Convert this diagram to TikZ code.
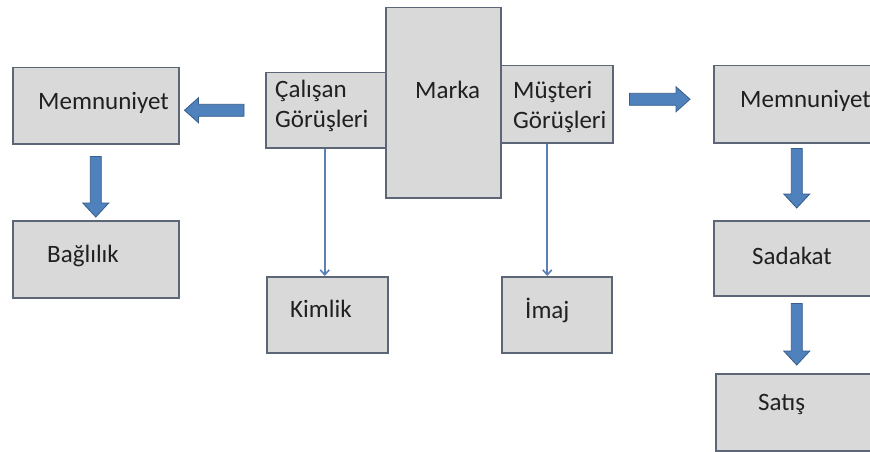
\documentclass[tikz,border=0pt]{standalone}
\usepackage{fontspec}
\setmainfont{Carlito}
\usetikzlibrary{calc,arrows.meta}
\definecolor{boxfill}{RGB}{217,217,217}
\definecolor{boxline}{RGB}{92,102,118}
\definecolor{arrfill}{RGB}{79,129,189}
\definecolor{arrline}{RGB}{56,93,138}
\definecolor{thinline}{RGB}{91,128,184}
\definecolor{txtcol}{RGB}{32,32,32}
\newcommand{\arrdown}[2]{%
  \draw[blockarr] ($(#1)+(-5.5,0)$) -- ($(#2)+(-5.5,-14)$) -- ($(#2)+(-13,-14)$) -- (#2)
    -- ($(#2)+(13,-14)$) -- ($(#2)+(5.5,-14)$) -- ($(#1)+(5.5,0)$) -- cycle;}
\newcommand{\arrleft}[2]{%
  \draw[blockarr] ($(#1)+(0,-6)$) -- ($(#2)+(14,-6)$) -- ($(#2)+(14,-12.5)$) -- (#2)
    -- ($(#2)+(14,12.5)$) -- ($(#2)+(14,6)$) -- ($(#1)+(0,6)$) -- cycle;}
\newcommand{\arrright}[2]{%
  \draw[blockarr] ($(#1)+(0,-6)$) -- ($(#2)+(-14,-6)$) -- ($(#2)+(-14,-12.5)$) -- (#2)
    -- ($(#2)+(-14,12.5)$) -- ($(#2)+(-14,6)$) -- ($(#1)+(0,6)$) -- cycle;}
\begin{document}
\begin{tikzpicture}[x=1pt,y=-1pt,
  greybox/.style={draw=boxline, fill=boxfill, line width=1.5pt, rectangle, inner sep=0pt, anchor=north west},
  lbl/.style={text=txtcol, font=\fontsize{25}{30}\selectfont, inner sep=0pt, anchor=base west},
  blockarr/.style={fill=arrfill, draw=arrline, line width=0.8pt, line join=miter},
  thinarr/.style={draw=thinline, line width=1.6pt, -{Straight Barb[length=5pt,width=9pt]}}]
\useasboundingbox (0,0) rectangle (870,452);
\clip (0,0) rectangle (870,452);
\fill[white] (0,0) rectangle (870,452);
% boxes
\node[greybox, minimum width=166pt, minimum height=76pt] (lm) at (12,67) {};
\node[greybox, minimum width=166pt, minimum height=77pt] (bb) at (12,220) {};
\node[greybox, minimum width=122pt, minimum height=75pt] (cg) at (265,72) {};
\node[greybox, minimum width=112pt, minimum height=77pt] (mg) at (500,65) {};
\node[greybox, minimum width=115pt, minimum height=190pt] (mk) at (385,7) {};
\node[greybox, minimum width=121pt, minimum height=76pt] (kim) at (266,276) {};
\node[greybox, minimum width=110pt, minimum height=76pt] (im) at (501,276) {};
\node[greybox, minimum width=166pt, minimum height=77pt] (rm) at (713,65) {};
\node[greybox, minimum width=166pt, minimum height=75pt] (sd) at (713,220) {};
\node[greybox, minimum width=164pt, minimum height=77pt] (st) at (715,373) {};
% texts
\node[lbl] (lm-t) at (38,110) {Memnuniyet};
\node[lbl] (bb-t) at (47,262) {Bağlılık};
\node[lbl] (cg-t1) at (275,97) {Çalışan};
\node[lbl] (cg-t2) at (275,127) {Görüşleri};
\node[lbl] (mk-t) at (415,99) {Marka};
\node[lbl] (mg-t1) at (513,99) {Müşteri};
\node[lbl] (mg-t2) at (513,128) {Görüşleri};
\node[lbl] (kim-t) at (290,317) {Kimlik};
\node[lbl] (im-t) at (525,318) {İmaj};
\node[lbl] (rm-t) at (740,107) {Memnuniyet};
\node[lbl] (sd-t) at (752,264) {Sadakat};
\node[lbl] (st-t) at (758,410) {Satış};
% block arrows
\coordinate (a1s) at ($(lm.south)+(0,12)$);
\coordinate (a1e) at ($(a1s |- bb.north)+(0,-3)$);
\arrdown{a1s}{a1e}
\coordinate (a2s) at ($(rm.south)+(0,5)$);
\coordinate (a2e) at ($(a2s |- sd.north)+(0,-12)$);
\arrdown{a2s}{a2e}
\coordinate (a3s) at ($(sd.south)+(0,7)$);
\coordinate (a3e) at ($(a3s |- st.north)+(0,-8)$);
\arrdown{a3s}{a3e}
\coordinate (hls) at ($(cg.west)+(-21,0)$);
\coordinate (hle) at ($(hls -| lm.east)+(5,0)$);
\arrleft{hls}{hle}
\coordinate (hrs) at ($(mg.east)+(16,-5)$);
\coordinate (hre) at ($(hrs -| rm.west)+(-23,0)$);
\arrright{hrs}{hre}
% thin connectors
\draw[thinarr] ($(cg.south)+(-2,0)$) -- ($(cg.south |- kim.north)+(-2,0)$);
\draw[thinarr] ($(mg.south)+(-9.5,0)$) -- ($(mg.south |- im.north)+(-9.5,0)$);
\end{tikzpicture}
\end{document}
